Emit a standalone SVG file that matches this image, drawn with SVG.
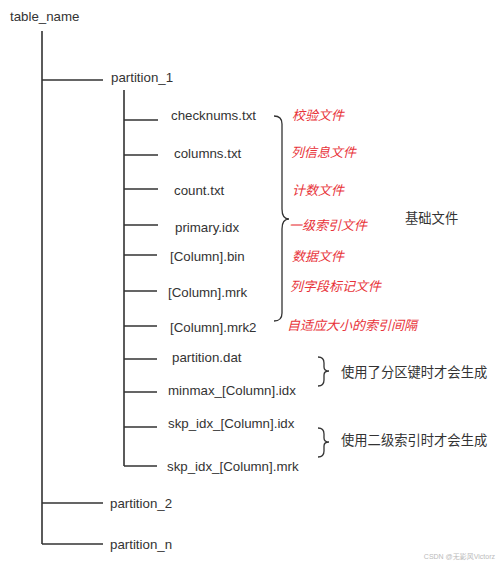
<svg xmlns="http://www.w3.org/2000/svg" width="500" height="563" viewBox="0 0 500 563">
<style>
.t{font-family:"Liberation Sans","Noto Sans CJK SC",sans-serif;font-size:13.3px;fill:#333;dominant-baseline:central}
.r{font-family:"Liberation Sans","Noto Sans CJK SC",sans-serif;font-size:13px;fill:#e8333a;font-style:italic;dominant-baseline:central}
.l{stroke:#333;stroke-width:1.6;fill:none}
.b{stroke:#333;stroke-width:1.3;fill:none}
.w{font-family:"Liberation Sans","Noto Sans CJK SC",sans-serif;font-size:7px;fill:#bbb;dominant-baseline:central;text-anchor:end}
</style>
<rect width="500" height="563" fill="#fff"/>
<g id="connectors">
<path class="l" d="M42 31V544M42 80H103M42 503H103M42 544H103"/>
<path class="l" d="M124 90V466M124 120H158M124 155H158M124 189H158M124 225H158M124 255H157M124 291H157M124 326H157M124 359H157M124 392H157M124 427H157M124 466H157"/>
<path class="b" d="M274 116Q282 116 282 124V209Q282 219 289 219Q282 219 282 229V313Q282 321 274 321"/>
<path class="b" d="M318 357Q324 357 324 363V367Q324 371 329 371Q324 371 324 375V380Q324 386 318 386"/>
<path class="b" d="M318 428Q324 428 324 434V438Q324 442 329 442Q324 442 324 446V451Q324 457 318 457"/>
</g>
<g id="table_name"><text class="t" x="10" y="16">table_name</text></g>
<g id="partition_1"><text class="t" x="111" y="77">partition_1</text></g>
<g id="checknums"><text class="t" x="171" y="115">checknums.txt</text></g>
<g id="columns"><text class="t" x="174" y="153">columns.txt</text></g>
<g id="count"><text class="t" x="174" y="190">count.txt</text></g>
<g id="primary"><text class="t" x="175" y="227">primary.idx</text></g>
<g id="colbin"><text class="t" x="170" y="256">[Column].bin</text></g>
<g id="colmrk"><text class="t" x="168" y="292">[Column].mrk</text></g>
<g id="colmrk2"><text class="t" x="170" y="327">[Column].mrk2</text></g>
<g id="partdat"><text class="t" x="172" y="357">partition.dat</text></g>
<g id="minmax"><text class="t" x="168" y="390">minmax_[Column].idx</text></g>
<g id="skpidx"><text class="t" x="168" y="423">skp_idx_[Column].idx</text></g>
<g id="skpmrk"><text class="t" x="167" y="466">skp_idx_[Column].mrk</text></g>
<g id="partition_2"><text class="t" x="110" y="503">partition_2</text></g>
<g id="partition_n"><text class="t" x="110" y="544">partition_n</text></g>
<g id="notes">
<text class="r" x="292" y="115">校验文件</text>
<text class="r" x="291" y="152">列信息文件</text>
<text class="r" x="292" y="190">计数文件</text>
<text class="r" x="289" y="225">一级索引文件</text>
<text class="r" x="292" y="256">数据文件</text>
<text class="r" x="290" y="286">列字段标记文件</text>
<text class="r" x="287" y="325">自适应大小的索引间隔</text>
<text class="t" x="405" y="218">基础文件</text>
<text class="t" x="341" y="372">使用了分区键时才会生成</text>
<text class="t" x="341" y="440">使用二级索引时才会生成</text>
</g>
<text class="w" x="495" y="556">CSDN @无影风Victorz</text>
</svg>
